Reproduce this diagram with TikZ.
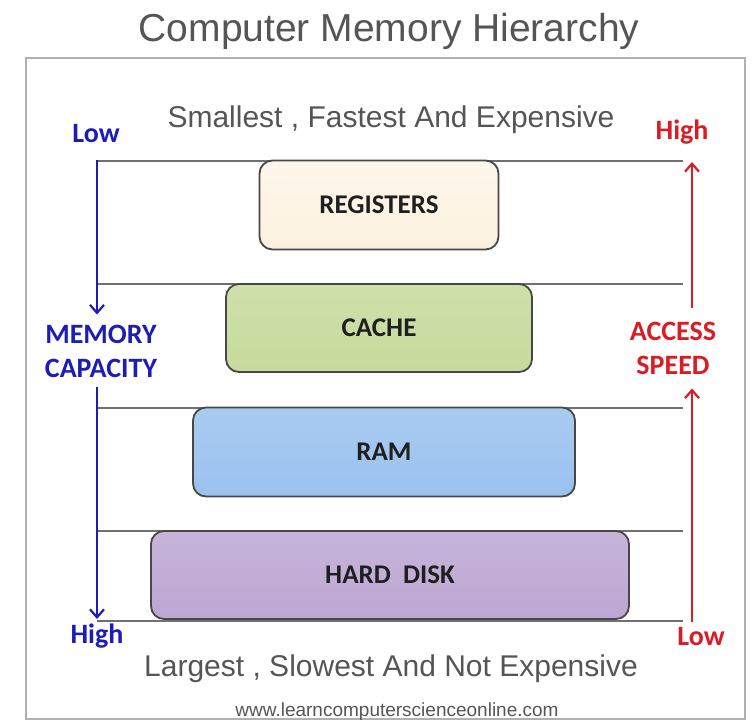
\documentclass[tikz,border=0pt]{standalone}
\usepackage{fontspec}
\setmainfont{Liberation Sans}
\newfontfamily\labelfont{Carlito}
\usepackage{xcolor}
\definecolor{cgrey}{HTML}{555555}
\definecolor{cline}{HTML}{707070}
\definecolor{cframe}{HTML}{B0B0B0}
\definecolor{cblue}{HTML}{1C1CB8}
\definecolor{cred}{HTML}{DC1C24}
\definecolor{creg}{HTML}{FCF1DE}
\definecolor{ccache}{HTML}{C6DB9C}
\definecolor{cram}{HTML}{9AC2EE}
\definecolor{cdisk}{HTML}{BDA7D3}
\usepackage{tikz}
\usetikzlibrary{positioning, arrows.meta}
\tikzset{
x=1pt, y=-1pt,
GreyText/.style={
	text=cgrey,
	font=\fontsize{30}{36}\selectfont,
	anchor=base
},
Title/.style={
	GreyText,
	font=\fontsize{39}{47}\selectfont
},
WebText/.style={
	GreyText,
	font=\fontsize{19}{23}\selectfont
},
Level/.style={
	draw=black!72, line width=1.8pt,
	rounded corners=13pt,
	inner sep=0pt,
	font=\labelfont\bfseries\fontsize{27}{30}\selectfont,
	text=black!88
},
RegLevel/.style={Level, top color=creg!60!white, bottom color=creg},
CacheLevel/.style={Level, top color=ccache!85!white, bottom color=ccache},
RamLevel/.style={Level, top color=cram!85!white, bottom color=cram},
DiskLevel/.style={Level, top color=cdisk!85!white, bottom color=cdisk},
Side/.style={
	font=\labelfont\bfseries\fontsize{28}{34}\selectfont,
	align=center
},
BlueSide/.style={Side, text=cblue},
RedSide/.style={Side, text=cred},
Rule/.style={
	draw=cline, line width=2pt
},
Frame/.style={
	draw=cframe, line width=2pt
},
BlueArrow/.style={
	draw=cblue, line width=2.2pt,
	-{Straight Barb[length=8pt,width=14pt]}
},
RedArrow/.style={
	draw=cred, line width=2.2pt,
	-{Straight Barb[length=8pt,width=14pt]}
}
}

\begin{document}
\begin{tikzpicture}
	\useasboundingbox (0,0) rectangle (753,721);
	\node[Title] (title) at (389,41) {Computer Memory Hierarchy};
	\draw[Frame] (26,58) rectangle (745,719);

	\node[GreyText] (top) at (391,127) {Smallest , Fastest And Expensive};
	\node[GreyText] (bottom) at (391,676) {Largest , Slowest And Not Expensive};
	\node[WebText] (web) at (397,716) {www.learncomputerscienceonline.com};

	\foreach \y in {161,284,408,531,621}
		\draw[Rule] (97,\y) -- (683,\y);

	\node[RegLevel, minimum width=239pt, minimum height=89pt] (reg) at (379,205) {REGISTERS};
	\node[CacheLevel, minimum width=306pt, minimum height=88pt] (cache) at (379,328) {CACHE};
	\node[RamLevel, minimum width=382pt, minimum height=89pt] (ram) at (384,452) {RAM};
	\node[DiskLevel, minimum width=478pt, minimum height=88pt] (disk) at (390,575) {HARD\ \ DISK};

	\node[BlueSide] (lowcap) at (96,134) {Low};
	\node[BlueSide] (highcap) at (97,636) {High};
	\node[BlueSide, inner ysep=10pt] (memcap) at (101,351) {MEMORY\\CAPACITY};
	\node[RedSide] (highspd) at (682,132) {High};
	\node[RedSide] (lowspd) at (701,637) {Low};
	\node[RedSide, inner ysep=14pt] (speed) at (673,348) {ACCESS\\SPEED};

	\coordinate (capTop) at (97,160);
	\coordinate (capEnd) at (97,619);
	\coordinate (spdBot) at (692,622);
	\coordinate (spdTop) at (692,162);

	\draw[BlueArrow] (capTop) -- (memcap.north -| capTop);
	\draw[BlueArrow] (memcap.south -| capTop) -- (capEnd);
	\draw[RedArrow] (spdBot) -- (speed.south -| spdBot);
	\draw[RedArrow] (speed.north -| spdBot) -- (spdTop);
\end{tikzpicture}
\end{document}
